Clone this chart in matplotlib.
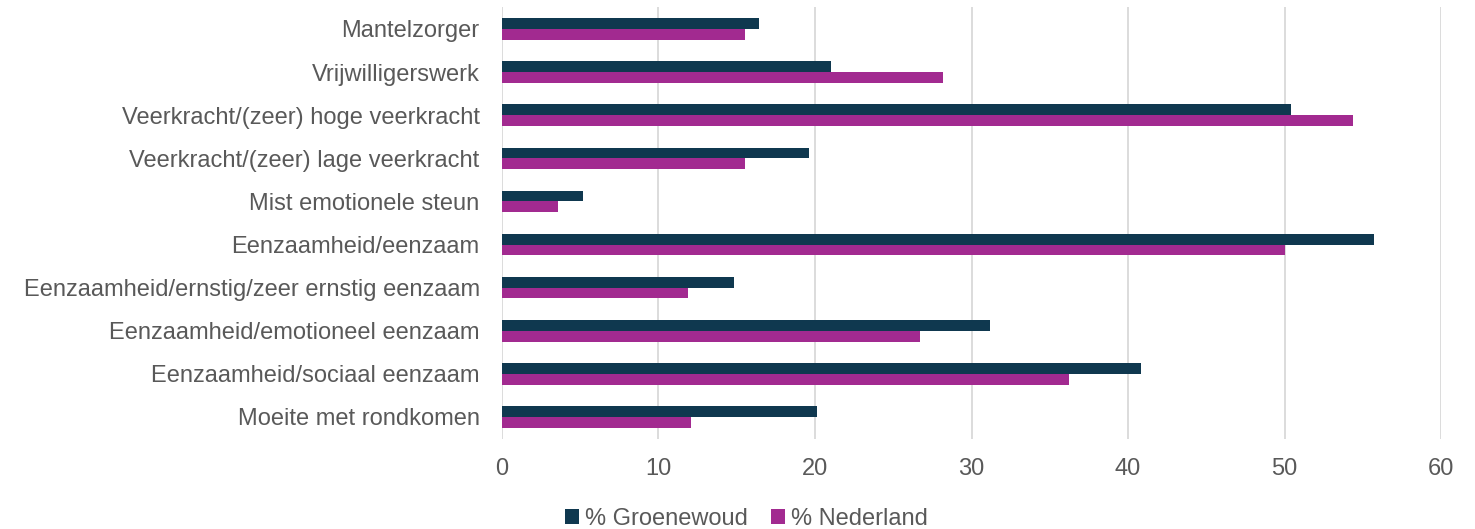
import matplotlib
matplotlib.use("Agg")
import matplotlib.pyplot as plt
import numpy as np

plt.rcParams['font.family'] = ['Liberation Sans', 'DejaVu Sans']

categories = ["Mantelzorger", "Vrijwilligerswerk", "Veerkracht/(zeer) hoge veerkracht",
              "Veerkracht/(zeer) lage veerkracht", "Mist emotionele steun",
              "Eenzaamheid/eenzaam", "Eenzaamheid/ernstig/zeer ernstig eenzaam",
              "Eenzaamheid/emotioneel eenzaam", "Eenzaamheid/sociaal eenzaam",
              "Moeite met rondkomen"]
groenewoud = [16.4, 21.0, 50.4, 19.6, 5.2, 55.7, 14.8, 31.2, 40.8, 20.1]
nederland = [15.5, 28.2, 54.4, 15.5, 3.6, 50.0, 11.9, 26.7, 36.2, 12.1]
xticks = [0, 10, 20, 30, 40, 50, 60]

c_g = "#0f384f"
c_n = "#a22a90"
txt = "#595959"

fig = plt.figure(figsize=(14.75, 5.29), dpi=100)
ax = fig.add_axes([0.3403, 0.171, 0.6367, 0.815])
y = np.arange(len(categories))
h = 0.25
ax.barh(y - h/2, groenewoud, height=h, color=c_g, label="% Groenewoud", zorder=3)
ax.barh(y + h/2, nederland, height=h, color=c_n, label="% Nederland", zorder=3)
ax.set_ylim(len(categories) - 0.5, -0.5)
ax.set_xlim(0, 60)
ax.set_xticks(xticks)
ax.set_xticklabels([str(v) for v in xticks])
ax.set_yticks(y)
ax.set_yticklabels(categories)
ax.tick_params(axis='both', length=0, labelsize=17, colors=txt)
ax.tick_params(axis='x', pad=14)
ax.tick_params(axis='y', pad=16)
ax.grid(axis='x', color='#d9d9d9', linewidth=1.3, zorder=0)
for s in ax.spines.values():
    s.set_visible(False)
leg = fig.legend(loc='lower center', bbox_to_anchor=(0.5 + 0.006, -0.042), ncol=2, frameon=False,
                 fontsize=17, handlelength=0.6, handleheight=0.6, handletextpad=0.25,
                 columnspacing=1.0, labelcolor=txt)
fig.savefig("out.png", dpi=100)
